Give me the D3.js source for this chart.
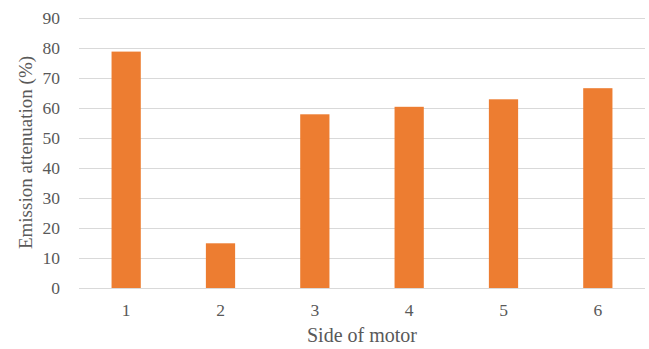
<!DOCTYPE html>
<html>
<head>
<meta charset="utf-8">
<script src="https://cdn.jsdelivr.net/npm/d3@7"></script>
<style>
  html, body { margin: 0; padding: 0; background: #fff; }
  svg { display: block; font-family: "Liberation Serif"; }
</style>
</head>
<body>
<svg id="chart" width="649" height="349"></svg>
<script>
// Emission attenuation per side of the motor
const sides = ["1", "2", "3", "4", "5", "6"];
const attenuation = [78.8, 14.9, 57.9, 60.4, 62.9, 66.6];
const yTicks = [0, 10, 20, 30, 40, 50, 60, 70, 80, 90];

const width = 649, height = 349;
const margin = { top: 18, right: 4, bottom: 61, left: 79 };
const textColor = "#595959";
const serif = "Liberation Serif";

const svg = d3.select("#chart").attr("font-family", serif);

const x = d3.scaleBand()
  .domain(sides)
  .range([margin.left, width - margin.right])
  .paddingInner(0.69)
  .paddingOuter(0.345);

const y = d3.scaleLinear()
  .domain([0, 90])
  .range([height - margin.bottom, margin.top]);

// horizontal gridlines
svg.append("g")
  .selectAll("line")
  .data(yTicks)
  .join("line")
  .attr("x1", margin.left)
  .attr("x2", width - margin.right)
  .attr("y1", d => Math.round(y(d)) + 0.5)
  .attr("y2", d => Math.round(y(d)) + 0.5)
  .attr("stroke", "#d9d9d9")
  .attr("stroke-width", 1.2);

// bars
svg.append("g")
  .selectAll("rect")
  .data(attenuation)
  .join("rect")
  .attr("x", (d, i) => x(sides[i]))
  .attr("width", x.bandwidth())
  .attr("y", d => y(d))
  .attr("height", d => y(0) - y(d))
  .attr("fill", "#ED7D31");

// y axis labels
const gy = svg.append("g")
  .attr("transform", `translate(${margin.left - 19},0)`)
  .call(d3.axisLeft(y).tickValues(yTicks).tickSize(0).tickPadding(0))
  .attr("font-family", serif)
  .attr("font-size", 17.5);
gy.select(".domain").remove();
gy.selectAll("text")
  .attr("fill", textColor)
  .attr("font-family", serif)
  .attr("dy", "0.34em");

// x axis labels
const gx = svg.append("g")
  .attr("transform", `translate(0,${y(0)})`)
  .call(d3.axisBottom(x).tickSize(0).tickPadding(0))
  .attr("font-family", serif)
  .attr("font-size", 17.5);
gx.select(".domain").remove();
gx.selectAll("text")
  .attr("fill", textColor)
  .attr("font-family", serif)
  .attr("dy", null)
  .attr("y", 28);

// axis titles
svg.append("text")
  .attr("x", (margin.left + width - margin.right) / 2)
  .attr("y", 342)
  .attr("text-anchor", "middle")
  .attr("fill", textColor)
  .attr("font-family", serif)
  .attr("font-size", 20)
  .text("Side of motor");

svg.append("text")
  .attr("transform", "translate(32,152.5) rotate(-90)")
  .attr("text-anchor", "middle")
  .attr("fill", textColor)
  .attr("font-family", serif)
  .attr("font-size", 19)
  .text("Emission attenuation (%)");
</script>
</body>
</html>
